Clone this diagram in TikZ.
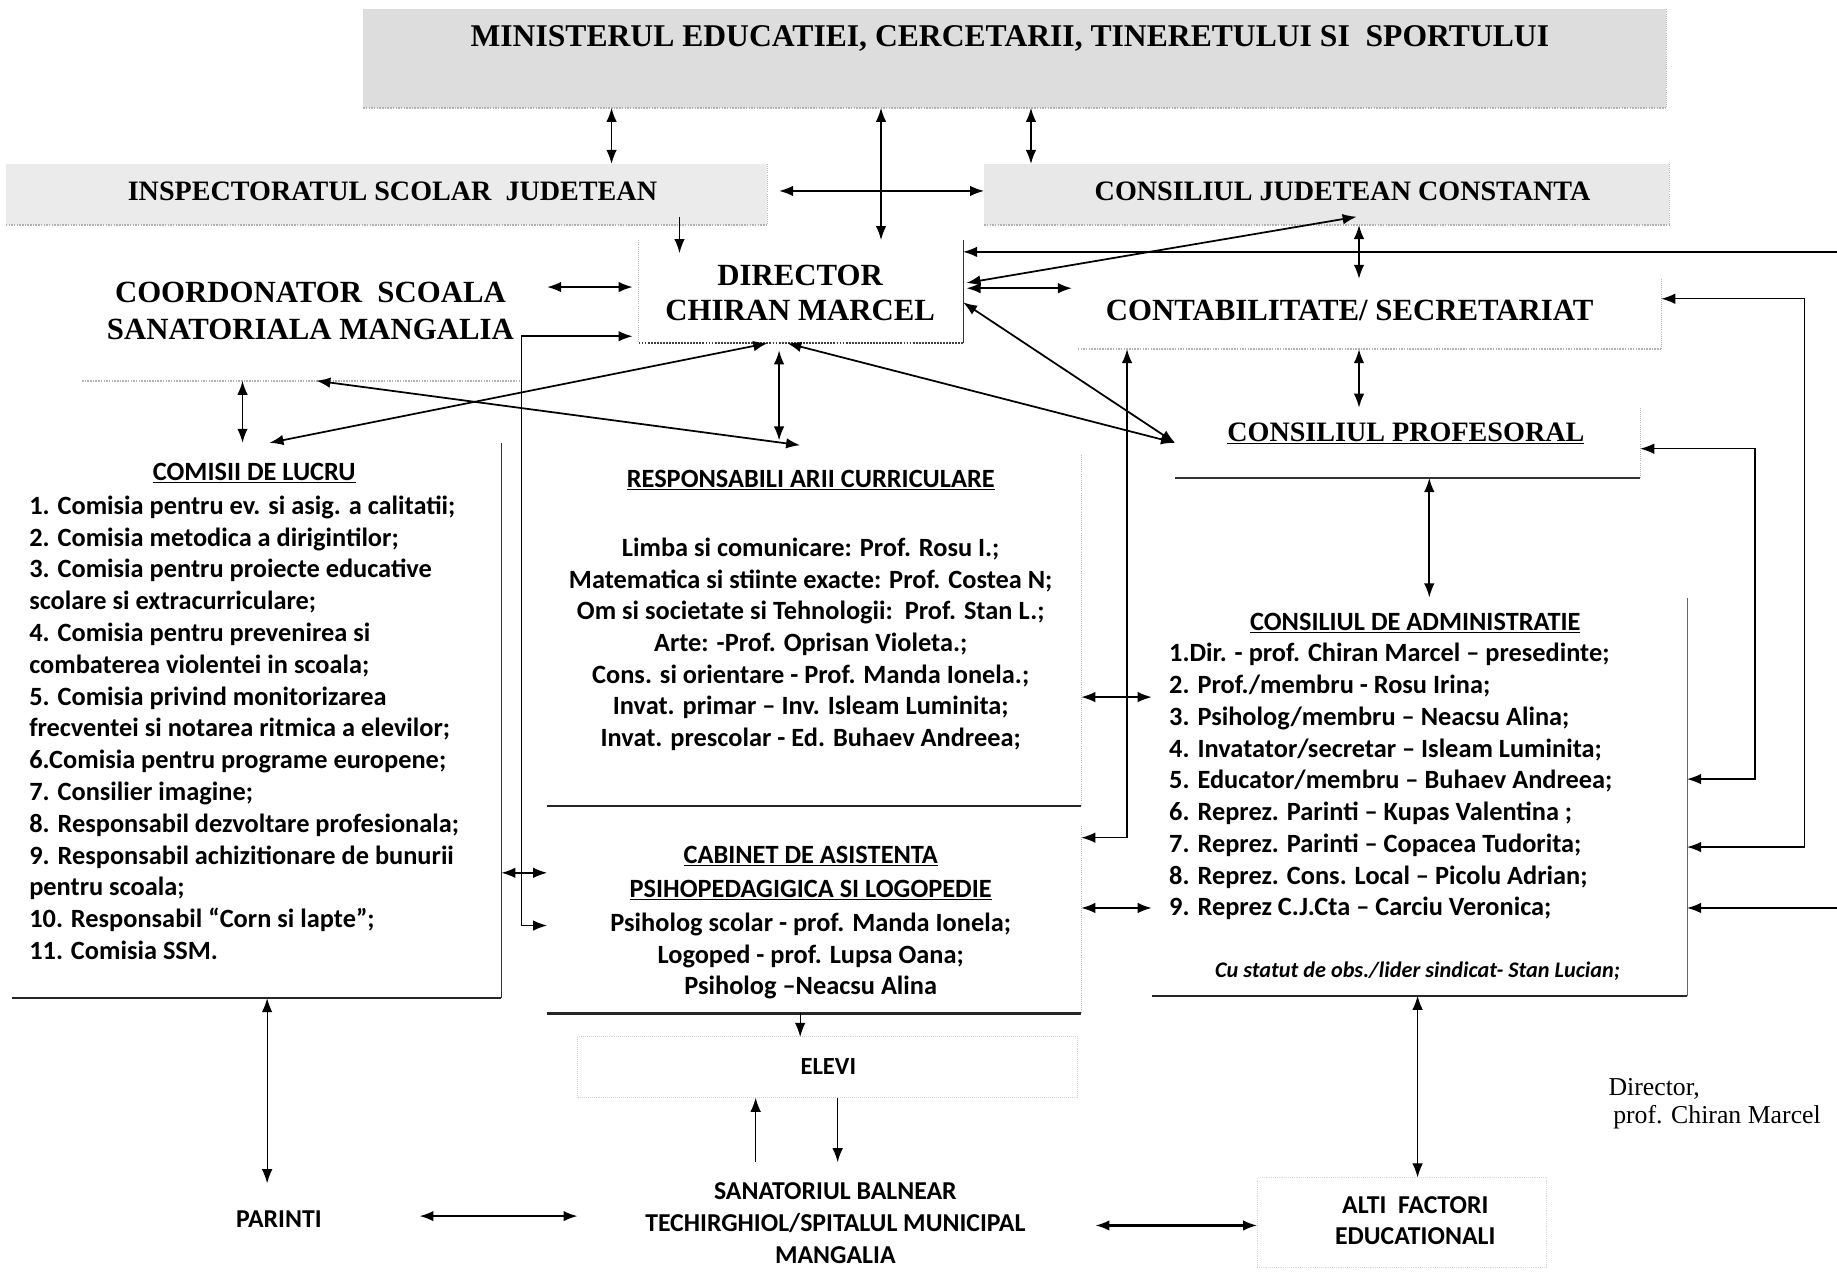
\documentclass[tikz,border=0pt]{standalone}
\usepackage{fontspec}
\setmainfont{Liberation Serif}
\newfontfamily\cb{Carlito}
\usetikzlibrary{arrows.meta,calc}
\newcommand\fs[2]{\fontsize{#1}{#2}\selectfont}
\begin{document}
\begin{tikzpicture}[x=1pt,y=-1pt,
  every node/.style={inner sep=0pt, outer sep=0pt},
  bx/.style={rectangle, draw=none},
  ban/.style={rectangle, fill=gray!22, draw=none},
  hd/.style={font=\bfseries\fs{#1}{#1}, align=center},
  cbl/.style={font=\cb\bfseries\fs{22.5}{27.1}, anchor=base west},
  cbc/.style={font=\cb\bfseries\fs{22.5}{27.1}, anchor=base},
  bot/.style={font=\cb\bfseries\fs{22}{27}, align=center},
  dbl/.style={{Latex[length=12pt,width=9pt]}-{Latex[length=12pt,width=9pt]}, line width=1.5pt},
  sgl/.style={-{Latex[length=12pt,width=9pt]}, line width=1.5pt},
  thn/.style={line width=1pt},
  redge/.style={line width=0.9pt, black!80},
  fedge/.style={line width=0.8pt, gray!55, densely dotted},
  bedge/.style={line width=2.2pt, black!85},
  dedge/.style={line width=1.3pt, gray!60, densely dotted}
]
\useasboundingbox (0,0) rectangle (1568,1093);

% ---------- banners ----------
\node[ban, fill=gray!27, minimum width=1112, minimum height=84] (min) at (866,50) {};
\draw[dedge] (min.south west) -- (min.south east);
\draw[fedge] (min.north east) -- (min.south east);
\node[hd=27] (mint) at (862,33) {MINISTERUL EDUCATIEI, CERCETARII, TINERETULUI SI\ \ SPORTULUI};

\node[ban, fill=gray!16, minimum width=650, minimum height=52] (isj) at (330,166) {};
\draw[dedge] (isj.south west) -- (isj.south east);
\draw[fedge] (isj.north east) -- (isj.south east);
\node[hd=24] (isjt) at (335,163) {INSPECTORATUL SCOLAR\ \ JUDETEAN};

\node[ban, fill=gray!18, minimum width=585, minimum height=52] (cjc) at (1132.5,166) {};
\draw[dedge] (cjc.south west) -- (cjc.south east);
\draw[fedge] (cjc.north east) -- (cjc.south east);
\node[hd=24] (cjct) at (1146,163) {CONSILIUL JUDETEAN CONSTANTA};

% ---------- director ----------
\node[bx, minimum width=277, minimum height=88] (dir) at (683.5,249) {};
\draw[redge] (dir.north east) -- (dir.south east);
\draw[line width=1.6pt, black!75, densely dotted] (dir.south west) -- (dir.south east);
\draw[fedge] (dir.north west) -- (dir.south west);
\node[font=\bfseries\fs{26.3}{30}, align=center] (dirt) at (683,250) {DIRECTOR\\CHIRAN MARCEL};

% ---------- coordonator ----------
\node[bx, minimum width=360, minimum height=120] (coord) at (265,265) {};
\draw[dedge] ([xshift=-15pt]coord.south west) -- (coord.south east);
\node[font=\bfseries\fs{26.3}{31}, align=center] (coordt) at (265,265.5) {COORDONATOR\ \ SCOALA\\SANATORIALA MANGALIA};

% ---------- contabilitate ----------
\node[bx, minimum width=498, minimum height=60] (cont) at (1169,268) {};
\draw[dedge] (cont.south west) -- (cont.south east);
\draw[fedge] (cont.north east) -- (cont.south east);
\node[hd=26.3] (contt) at (1152,265) {CONTABILITATE/ SECRETARIAT};

% ---------- consiliul profesoral ----------
\node[bx, minimum width=397, minimum height=60] (cp) at (1201.5,378) {};
\draw[line width=1.8pt, black!80] (cp.south west) -- (cp.south east);
\draw[fedge] (cp.north east) -- (cp.south east);
\node[hd=24] (cpt) at (1200,370) {\underline{CONSILIUL PROFESORAL}};

% ---------- comisii ----------
\node[bx, minimum width=418, minimum height=474] (com) at (219,615) {};
\draw[redge] (com.north east) -- (com.south east);
\draw[bedge] (com.south west) -- (com.south east);
\node[cbc] (comt) at (217,410) {\underline{COMISII DE LUCRU}};
\foreach \t [count=\i from 0] in {
  {1. Comisia pentru ev. si asig. a calitatii;},
  {2. Comisia metodica a dirigintilor;},
  {3. Comisia pentru proiecte educative},
  {scolare si extracurriculare;},
  {4. Comisia pentru prevenirea si},
  {combaterea violentei in scoala;},
  {5. Comisia privind monitorizarea},
  {frecventei si notarea ritmica a elevilor;},
  {6.Comisia pentru programe europene;},
  {7. Consilier imagine;},
  {8. Responsabil dezvoltare profesionala;},
  {9. Responsabil achizitionare de bunurii},
  {pentru scoala;},
  {10. Responsabil “Corn si lapte”;},
  {11. Comisia SSM.}}
  \node[cbl, name=cl\i] at (25,{439+27.14*\i}) {\t};

% ---------- responsabili ----------
\node[bx, minimum width=456, minimum height=300] (resp) at (695,538) {};
\draw[fedge] (resp.north east) -- (resp.south east);
\draw[bedge] (resp.south west) -- (resp.south east);
\node[cbc] (respt) at (692,416) {\underline{RESPONSABILI ARII CURRICULARE}};
\foreach \t [count=\i from 0] in {
  {Limba si comunicare: Prof. Rosu I.;},
  {Matematica si stiinte exacte: Prof. Costea N;},
  {Om si societate si Tehnologii:\ \ Prof. Stan L.;},
  {Arte: -Prof. Oprisan Violeta.;},
  {Cons. si orientare - Prof. Manda Ionela.;},
  {Invat. primar – Inv. Isleam Luminita;},
  {Invat. prescolar - Ed. Buhaev Andreea;}}
  \node[cbc, name=rl\i] at (692,{475+27*\i}) {\t};

% ---------- cabinet ----------
\node[bx, minimum width=456, minimum height=160] (cab) at (695,785) {};
\draw[fedge] (cab.north east) -- (cab.south east);
\draw[bedge] (cab.south west) -- (cab.south east);
\node[cbc] (cab1) at (692,737) {\underline{CABINET DE ASISTENTA}};
\node[cbc] (cab2) at (692,766) {\underline{PSIHOPEDAGIGICA SI LOGOPEDIE}};
\node[cbc] (cab3) at (692,795) {Psiholog scolar - prof. Manda Ionela;};
\node[cbc] (cab4) at (692,822) {Logoped - prof. Lupsa Oana;};
\node[cbc] (cab5) at (692,849) {Psiholog –Neacsu Alina};

% ---------- consiliul de administratie ----------
\node[bx, minimum width=457, minimum height=340] (ca) at (1211.5,680) {};
\draw[redge, black!60] (ca.north east) -- (ca.south east);
\draw[bedge] (ca.south west) -- (ca.south east);
\node[cbc] (cat) at (1208,538) {\underline{CONSILIUL DE ADMINISTRATIE}};
\foreach \t [count=\i from 0] in {
  {1.Dir. - prof. Chiran Marcel – presedinte;},
  {2. Prof./membru - Rosu Irina;},
  {3. Psiholog/membru – Neacsu Alina;},
  {4. Invatator/secretar – Isleam Luminita;},
  {5. Educator/membru – Buhaev Andreea;},
  {6. Reprez. Parinti – Kupas Valentina ;},
  {7. Reprez. Parinti – Copacea Tudorita;},
  {8. Reprez. Cons. Local – Picolu Adrian;},
  {9. Reprez C.J.Cta – Carciu Veronica;}}
  \node[cbl, name=al\i] at (998,{565+27.1*\i}) {\t};
\node[font=\cb\bfseries\itshape\fs{19}{22}, anchor=base] (cait) at (1210,834) {Cu statut de obs./lider sindicat- Stan Lucian;};

% ---------- bottom ----------
\node[bx, minimum width=427, minimum height=52, draw=gray!35, densely dotted, line width=0.7pt] (elevi) at (706.5,911) {};
\node[bot, font=\cb\bfseries\fs{21}{24}] (elevit) at (707,910) {ELEVI};
\node[bx, minimum width=235, minimum height=62] (par) at (237.5,1041) {};
\node[bot] (part) at (238,1041) {PARINTI};
\node[bx, minimum width=442, minimum height=102] (san) at (714,1043) {};
\node[bot] (sant) at (713,1044) {SANATORIUL BALNEAR\\TECHIRGHIOL/SPITALUL MUNICIPAL\\MANGALIA};
\node[bx, minimum width=247, minimum height=77, draw=gray!30, densely dotted, line width=0.6pt] (alti) at (1196.5,1043.5) {};
\node[bot] (altit) at (1208,1042) {ALTI\ \ FACTORI\\EDUCATIONALI};

\node[font=\fs{22}{24}, anchor=base west] (sig1) at (1373,935) {Director,};
\node[font=\fs{22}{24}, anchor=base west] (sig2) at (1377,959) {prof. Chiran Marcel};

\coordinate (offR1) at (1568,215);
\coordinate (offR2) at (1568,775);

% ---------- connectors ----------
\draw[dbl] (min.south -| 522,0) -- (isj.north -| 522,0);
\draw[dbl] (min.south -| 752,0) -- (dir.north -| 752,0);
\draw[dbl] (min.south -| 880,0) -- (cjc.north -| 880,0);
\draw[dbl, shorten <=10pt] (isj.east |- 0,163) -- (cjc.west |- 0,163);
\draw[sgl, line width=1.2pt] ([yshift=7pt]isj.south -| 580,0) -- ([yshift=-11pt]dir.north -| 580,0);

\draw[dbl, shorten <=22pt, shorten >=5pt] (coord.east |- 0,245) -- (dir.west |- 0,245);
\draw[sgl, shorten >=5pt] (coord.east |- 0,287) -- (dir.west |- 0,287);
\draw[sgl, line width=1.2pt] (coord.east |- 0,287) |- (cab.west |- 0,790);

\draw[dbl] (coord.south -| 207,0) -- (com.north -| 207,0);
\draw[dbl] (coord.south -| 270,0) -- ([shift={(0,-8)}]resp.north -| 683,0);
\draw[dbl] (dir.south -| 655,0) -- (com.north -| 230,0);
\draw[dbl, shorten <=6pt, shorten >=12pt] (dir.south -| 665,0) -- (resp.north -| 665,0);
\draw[dbl] (dir.south -| 672,0) -- (cp.west);
\draw[dbl] (dir.east |- 0,258) -- (cp.west);
\draw[dbl, shorten <=3pt, shorten >=5pt] (dir.east |- 0,246) -- (cont.west |- 0,246);
\draw[dbl, shorten <=3pt] (dir.east |- 0,242) -- ([shift={(0,-7)}]cjc.south -| 1158,0);
\draw[sgl] (offR1) -- (dir.east |- offR1);

\draw[dbl] (cjc.south -| 1160,0) -- (cont.north -| 1160,0);
\draw[dbl] (cont.south -| 1160,0) -- (cp.north -| 1160,0);
\draw[dbl, line width=1.2pt] (cont.south -| 962,0) |- (cab.east |- 0,715);
\draw[dbl, line width=1.2pt] (cont.east |- 0,255) -- ++(122,0) |- (ca.east |- 0,723);
\draw[dbl, line width=1.2pt] (cp.east |- 0,383) -- ++(98,0) |- (ca.east |- 0,665);
\draw[sgl, line width=1.2pt] (offR2) -- (ca.east |- offR2);
\draw[dbl, line width=1.2pt] (resp.east |- 0,595) -- (ca.west |- 0,595);
\draw[dbl, line width=1.2pt] (cab.east |- 0,775) -- (ca.west |- 0,775);
\draw[dbl, line width=1.2pt] (com.east |- 0,745) -- (cab.west |- 0,745);
\draw[dbl] (cp.south -| 1220,0) -- (ca.north -| 1220,0);

\draw[sgl, thn] (cab.south -| 683,0) -- (elevi.north -| 683,0);
\draw[sgl, thn] (san.north -| 645,0) -- (elevi.south -| 645,0);
\draw[sgl, thn] (elevi.south -| 715,0) -- (san.north -| 715,0);
\draw[dbl, thn] (com.south -| 228,0) -- (par.north -| 228,0);
\draw[dbl, thn] (ca.south -| 1210,0) -- (alti.north -| 1210,0);
\draw[dbl, line width=1.8pt, shorten <=3pt] (par.east |- 0,1038) -- (san.west |- 0,1038);
\draw[dbl, line width=1.8pt] (san.east |- 0,1046) -- (alti.west |- 0,1046);
\end{tikzpicture}
\end{document}
